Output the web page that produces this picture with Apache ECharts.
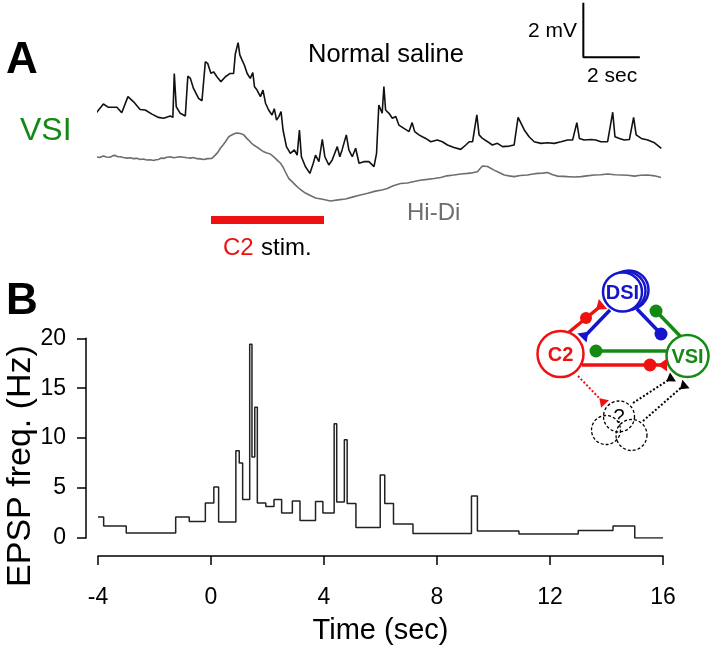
<!DOCTYPE html>
<html><head><meta charset="utf-8">
<script src="https://cdn.jsdelivr.net/npm/echarts@6/dist/echarts.min.js"></script>
<style>html,body{margin:0;padding:0;background:#fff}#c{width:717px;height:646px}</style>
</head><body><div id="c"></div>
<script>
// ---------- DATA ----------
// Panel B: EPSP instantaneous frequency (step edges in sec, value held until next edge)
const stepTimes = [-4, -3.8, -3.0, -1.25, -0.77, -0.2, 0.1, 0.27, 0.88, 1.0, 1.12, 1.37, 1.45, 1.55, 1.64, 1.94, 2.23, 2.5, 2.88, 3.15, 3.7, 3.96, 4.36, 4.45, 4.72, 4.82, 5.13, 5.99, 6.15, 6.46, 7.15, 9.22, 9.43, 10.9, 13.0, 14.23, 15.0, 16];
const stepFreq  = [2.1, 1.2, 0.5, 2.1, 1.65, 3.5, 5.1, 1.6, 8.75, 7.5, 3.85, 19.4, 8.1, 13.1, 3.5, 3.15, 3.85, 2.5, 3.7, 1.75, 3.65, 2.5, 11.45, 3.6, 9.85, 3.45, 1.05, 6.3, 3.45, 1.4, 0.45, 4.2, 0.7, 0.4, 0.75, 1.2, 0.0, 0.0];
const xTicks = [-4, 0, 4, 8, 12, 16];
const yTicks = [0, 5, 10, 15, 20];

// Panel A: VSI membrane potential traces [time sec, mV relative]
const salineTrace = [[-4.07,3.05],[-3.81,3.39],[-3.63,3.27],[-3.33,3.27],[-3.16,3.07],[-2.94,3.66],[-2.74,3.47],[-2.51,3.19],[-2.33,3.17],[-2.09,3.02],[-1.86,2.90],[-1.68,2.87],[-1.44,2.95],[-1.35,2.90],[-1.30,4.51],[-1.23,3.29],[-1.09,3.05],[-0.91,2.95],[-0.82,4.41],[-0.73,4.33],[-0.62,3.96],[-0.44,3.60],[-0.32,3.51],[-0.20,4.94],[-0.12,4.88],[0.00,4.51],[0.09,4.57],[0.21,4.39],[0.35,4.21],[0.51,4.39],[0.68,4.51],[0.80,4.51],[0.86,5.22],[0.96,5.64],[1.02,5.19],[1.10,5.00],[1.18,4.82],[1.28,4.51],[1.39,4.33],[1.48,4.54],[1.54,4.02],[1.63,3.90],[1.75,3.66],[1.84,3.90],[1.93,3.42],[2.04,3.17],[2.16,2.99],[2.24,3.22],[2.32,2.80],[2.40,2.93],[2.48,3.11],[2.55,2.44],[2.67,1.83],[2.81,1.58],[2.95,1.71],[3.05,1.52],[3.13,2.44],[3.20,1.46],[3.34,1.10],[3.50,0.85],[3.62,1.22],[3.70,1.52],[3.82,1.28],[3.94,2.10],[4.03,1.46],[4.17,1.16],[4.29,1.34],[4.47,1.83],[4.56,1.46],[4.64,1.71],[4.79,2.26],[4.88,1.71],[5.00,1.46],[5.12,1.77],[5.24,1.22],[5.41,1.28],[5.59,1.28],[5.77,1.10],[5.86,1.58],[5.94,3.35],[6.00,3.29],[6.06,3.05],[6.12,4.03],[6.18,3.17],[6.30,3.05],[6.42,2.87],[6.54,2.93],[6.65,2.62],[6.83,2.50],[7.01,2.38],[7.12,2.71],[7.21,2.38],[7.36,2.26],[7.48,2.19],[7.60,2.13],[7.78,2.01],[8.01,2.07],[8.19,2.01],[8.37,1.89],[8.60,1.80],[8.84,1.73],[9.02,1.89],[9.14,2.01],[9.26,2.01],[9.41,2.99],[9.49,2.26],[9.61,2.13],[9.79,2.01],[9.96,1.89],[10.14,1.95],[10.32,1.83],[10.56,1.85],[10.73,1.89],[10.87,2.90],[10.95,2.74],[11.09,2.44],[11.26,2.19],[11.44,2.01],[11.68,1.95],[11.91,1.97],[12.15,1.95],[12.39,2.01],[12.62,2.07],[12.80,2.07],[12.95,2.71],[13.04,2.13],[13.21,2.07],[13.45,2.09],[13.62,2.07],[13.80,2.01],[14.04,2.01],[14.22,3.09],[14.30,2.19],[14.46,2.13],[14.63,2.07],[14.81,2.09],[14.96,2.90],[15.05,2.26],[15.23,2.13],[15.46,2.07],[15.70,1.97],[15.94,1.77]];
const hidiTrace = [[-4.07,1.46],[-3.95,1.43],[-3.81,1.49],[-3.7,1.45],[-3.57,1.44],[-3.47,1.50],[-3.39,1.51],[-3.3,1.46],[-3.22,1.46],[-3.1,1.43],[-2.98,1.41],[-2.86,1.42],[-2.74,1.39],[-2.62,1.40],[-2.51,1.36],[-2.4,1.38],[-2.27,1.34],[-2.15,1.35],[-2.03,1.32],[-1.95,1.35],[-1.86,1.36],[-1.76,1.41],[-1.68,1.40],[-1.56,1.44],[-1.44,1.46],[-1.32,1.42],[-1.21,1.44],[-1.1,1.46],[-0.97,1.44],[-0.85,1.42],[-0.73,1.41],[-0.62,1.43],[-0.5,1.39],[-0.38,1.38],[-0.26,1.36],[-0.12,1.39],[0.03,1.40],[0.15,1.52],[0.24,1.62],[0.33,1.77],[0.42,1.88],[0.51,2.01],[0.63,2.19],[0.72,2.25],[0.8,2.29],[0.9,2.33],[0.98,2.32],[1.07,2.30],[1.16,2.26],[1.25,2.15],[1.33,2.07],[1.42,1.97],[1.51,1.89],[1.6,1.83],[1.69,1.77],[1.78,1.70],[1.87,1.64],[1.98,1.60],[2.1,1.56],[2.19,1.48],[2.28,1.40],[2.37,1.31],[2.46,1.22],[2.55,1.08],[2.63,0.91],[2.75,0.67],[2.87,0.55],[2.99,0.42],[3.15,0.27],[3.34,0.13],[3.5,0.05],[3.7,-0.05],[3.95,-0.10],[4.23,-0.16],[4.5,-0.12],[4.76,-0.09],[5.0,-0.02],[5.29,0.06],[5.55,0.12],[5.82,0.20],[6.05,0.24],[6.24,0.30],[6.45,0.40],[6.71,0.48],[6.95,0.50],[7.19,0.55],[7.4,0.60],[7.66,0.63],[7.9,0.66],[8.13,0.70],[8.35,0.76],[8.6,0.79],[8.85,0.83],[9.08,0.85],[9.25,0.87],[9.43,0.91],[9.52,1.02],[9.61,1.12],[9.79,1.10],[10.02,0.97],[10.2,0.88],[10.38,0.79],[10.55,0.76],[10.73,0.73],[10.95,0.77],[11.2,0.79],[11.4,0.83],[11.56,0.85],[11.75,0.86],[11.91,0.88],[12.1,0.80],[12.27,0.75],[12.45,0.74],[12.62,0.73],[12.85,0.72],[13.1,0.73],[13.3,0.76],[13.57,0.79],[13.8,0.80],[14.04,0.83],[14.3,0.80],[14.52,0.79],[14.75,0.78],[14.99,0.75],[15.2,0.78],[15.46,0.79],[15.7,0.76],[15.93,0.70]];
const stimWindow = [0, 4];          // C2 stimulation, sec
const scaleBar = {sec: 2, mV: 2};   // scale bar sizes

// ---------- STYLE / LAYOUT ----------
const FONT = "'Liberation Sans', Arial, Helvetica, sans-serif";
const RED = '#ee1111', BLUE = '#1515cc', GREEN = '#148a14', GRAY = '#6e6e6e';
const stimLevel = -0.86;           // vertical placement of stim bar (mV axis units)
const scaleAnchor = [13.18, 5.1];  // corner of scale bar

const stepData = stepTimes.map((t, i) => [t, stepFreq[i]]);

function txt(text, x, y, size, color, opts) {
  opts = opts || {};
  return {type: 'text', z: 100, x: x, y: y, rotation: opts.rot || 0,
    style: {text: text, fill: color, fontSize: size, fontFamily: FONT, fontWeight: opts.bold ? 'bold' : 'normal',
      textAlign: opts.align || 'left', textVerticalAlign: 'middle', align: opts.align || 'left', verticalAlign: 'middle'}};
}
function circ(cx, cy, r, stroke, lw, dash, fill) {
  return {type: 'circle', z: 100, shape: {cx: cx, cy: cy, r: r},
    style: {fill: fill === undefined ? '#fff' : fill, stroke: stroke, lineWidth: lw, lineDash: dash || null}};
}
function seg(x1, y1, x2, y2, color, lw, dash) {
  return {type: 'line', z: 100, shape: {x1: x1, y1: y1, x2: x2, y2: y2},
    style: {stroke: color, lineWidth: lw, lineDash: dash || null}};
}
function dot(cx, cy, r, color) {
  return {type: 'circle', z: 101, shape: {cx: cx, cy: cy, r: r}, style: {fill: color}};
}
// synapse triangle: flat base at E facing along direction from (fx,fy) to (ex,ey)
function tri(fx, fy, ex, ey, color, w, L) {
  const dx = ex - fx, dy = ey - fy, n = Math.hypot(dx, dy);
  const ux = dx / n, uy = dy / n, px = -uy, py = ux;
  return {type: 'polygon', z: 101, shape: {points: [
    [ex + px * w / 2, ey + py * w / 2], [ex - px * w / 2, ey - py * w / 2], [ex - ux * L, ey - uy * L]]},
    style: {fill: color}};
}

const graphics = [
  txt('A', 6, 61, 44, '#000', {bold: true}),
  txt('B', 6, 302, 44, '#000', {bold: true}),
  txt('VSI', 20, 131, 32, GREEN),
  txt('Normal saline', 308, 55, 25.5, '#000'),
  txt('Hi-Di', 407, 213, 24, GRAY),
  txt('C2', 223, 248, 24, RED),
  txt('stim.', 261, 248, 24, '#000'),
  txt('2 mV', 577, 31, 21, '#000', {align: 'right'}),
  txt('2 sec', 587, 76, 21, '#000'),
  txt('EPSP freq. (Hz)', 21, 466, 34, '#000', {align: 'center', rot: Math.PI / 2}),
  // circuit diagram
  seg(568, 333, 602, 305, RED, 3.5),
  seg(610, 310, 584, 337, BLUE, 3.5),
  seg(637, 309, 661, 334, BLUE, 3.5),
  seg(681, 337, 656, 311, GREEN, 3.5),
  seg(667, 351, 596, 351, GREEN, 3.5),
  seg(582, 365, 664, 365, RED, 3.5),
  seg(578, 376, 602, 401, RED, 2, [2, 2]),
  seg(633, 403, 670, 379, '#000', 2, [2, 2]),
  seg(643, 421, 683, 386, '#000', 2, [2, 2]),
  circ(606, 430, 14.5, '#000', 1.3, [3, 2], null),
  circ(631.5, 435, 15.5, '#000', 1.3, [3, 2], null),
  circ(619, 416.5, 15.5, '#000', 1.3, [3, 2], null),
  txt('?', 619, 417, 20, '#000', {align: 'center'}),
  circ(629, 290, 19.5, BLUE, 2.5),
  circ(626, 291, 19.5, BLUE, 2.5),
  circ(622.5, 292, 19.5, BLUE, 2.5),
  txt('DSI', 622.5, 293, 20, BLUE, {bold: true, align: 'center'}),
  circ(560.5, 354, 23, RED, 2.5),
  txt('C2', 560.5, 355, 20, RED, {bold: true, align: 'center'}),
  circ(687.5, 356, 21, GREEN, 2.5),
  txt('VSI', 687.5, 357, 20, GREEN, {bold: true, align: 'center'}),
  dot(586, 318, 6, RED),
  tri(586, 318, 603, 304, RED, 13, 9),
  tri(610, 310, 582, 338, BLUE, 13, 9),
  dot(661, 334, 6.5, BLUE),
  dot(656, 311, 6.5, GREEN),
  dot(596, 351, 6.5, GREEN),
  dot(650, 365, 6.5, RED),
  tri(650, 365, 667, 365, RED, 13, 9),
  tri(578, 376, 605, 404, RED, 11, 8),
  tri(633, 403, 673, 377, '#000', 11, 8),
  tri(643, 421, 686, 384, '#000', 11, 8)
];

const chart = echarts.init(document.getElementById('c'), null, {renderer: 'canvas'});
chart.setOption({
  animation: false,
  backgroundColor: '#fff',
  textStyle: {fontFamily: FONT},
  grid: [
    {left: 98, right: 54, top: 0, height: 223.9},
    {left: 98, right: 54, top: 338.3, bottom: 107.7}
  ],
  xAxis: [
    {gridIndex: 0, type: 'value', min: xTicks[0], max: xTicks[xTicks.length - 1], show: false},
    {gridIndex: 1, type: 'value', min: xTicks[0], max: xTicks[xTicks.length - 1], interval: xTicks[1] - xTicks[0], offset: 18,
      axisLine: {onZero: false, lineStyle: {color: '#000', width: 1.5}},
      axisTick: {inside: false, length: 9, lineStyle: {color: '#000', width: 1.5}},
      axisLabel: {fontSize: 23, color: '#000', margin: 30, fontFamily: FONT},
      splitLine: {show: false},
      name: 'Time (sec)', nameLocation: 'middle', nameGap: 60,
      nameTextStyle: {fontSize: 29, color: '#000', fontFamily: FONT}}
  ],
  yAxis: [
    {gridIndex: 0, type: 'value', min: -1, max: 7.2, show: false},
    {gridIndex: 1, type: 'value', min: yTicks[0], max: yTicks[yTicks.length - 1], interval: yTicks[1] - yTicks[0], offset: 12,
      axisLine: {onZero: false, lineStyle: {color: '#000', width: 1.5}},
      axisTick: {inside: false, length: 9, lineStyle: {color: '#000', width: 1.5}},
      axisLabel: {fontSize: 23, color: '#000', margin: 20, fontFamily: FONT},
      splitLine: {show: false}}
  ],
  series: [
    {type: 'line', xAxisIndex: 0, yAxisIndex: 0, data: hidiTrace, showSymbol: false, clip: false,
      lineStyle: {color: GRAY, width: 1.6}},
    {type: 'line', xAxisIndex: 0, yAxisIndex: 0, data: salineTrace, showSymbol: false, clip: false,
      lineStyle: {color: '#111', width: 1.6}},
    {type: 'line', xAxisIndex: 0, yAxisIndex: 0, data: stimWindow.map(t => [t, stimLevel]), showSymbol: false,
      lineStyle: {color: RED, width: 8, cap: 'butt'}},
    {type: 'line', xAxisIndex: 0, yAxisIndex: 0, clip: false, showSymbol: false,
      data: [[scaleAnchor[0], scaleAnchor[1] + scaleBar.mV], [scaleAnchor[0], scaleAnchor[1]], [scaleAnchor[0] + scaleBar.sec, scaleAnchor[1]]],
      lineStyle: {color: '#000', width: 2}},
    {type: 'line', xAxisIndex: 1, yAxisIndex: 1, data: stepData, step: 'end', showSymbol: false,
      lineStyle: {color: '#222', width: 1.5}}
  ],
  graphic: graphics
});
</script>
</body></html>
